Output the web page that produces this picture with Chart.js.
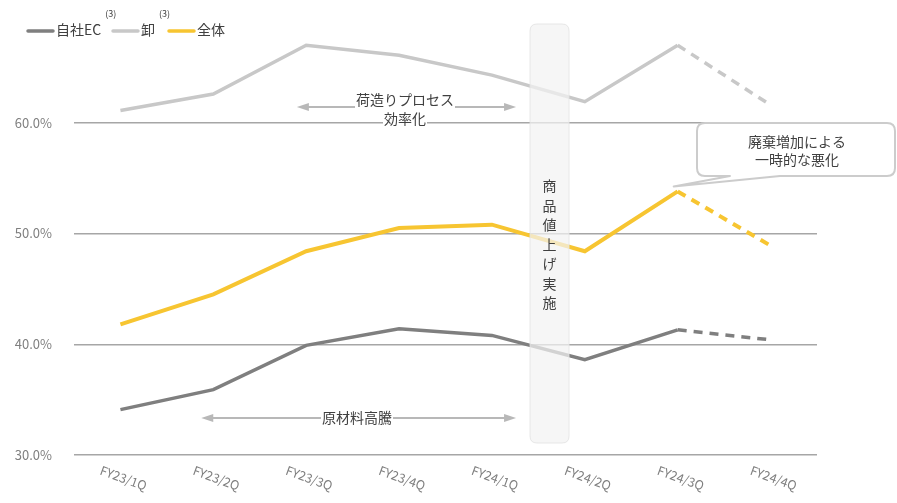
<!DOCTYPE html>
<html>
<head>
<meta charset="utf-8">
<script src="https://cdn.jsdelivr.net/npm/chart.js@4"></script>
<style>
  html, body { margin: 0; padding: 0; background: #fff; }
  #wrap { width: 897px; height: 503px; }
</style>
</head>
<body>
<div id="wrap"><canvas id="chart"></canvas></div>
<script>
// 四半期ラベル
const quarters = ['FY23/1Q', 'FY23/2Q', 'FY23/3Q', 'FY23/4Q', 'FY24/1Q', 'FY24/2Q', 'FY24/3Q', 'FY24/4Q'];
// 粗利率 (%)
const ecValues = [34.1, 35.9, 39.9, 41.4, 40.8, 38.6, 41.3, 40.4];
const wholesaleValues = [61.1, 62.6, 67.0, 66.1, 64.3, 61.9, 67.0, 61.6];
const totalValues = [41.8, 44.5, 48.4, 50.5, 50.8, 48.4, 53.8, 48.9];
const yTicks = [30, 40, 50, 60];

const FONT = '"Noto Sans CJK JP", "Noto Sans", sans-serif';

// 最後の区間 (見込み) は破線
const dashLast = ctx => ctx.p0DataIndex === quarters.length - 2 ? [9, 7] : undefined;

function roundRect(c, x, y, w, h, r) {
    c.beginPath();
    c.moveTo(x + r, y);
    c.lineTo(x + w - r, y);
    c.quadraticCurveTo(x + w, y, x + w, y + r);
    c.lineTo(x + w, y + h - r);
    c.quadraticCurveTo(x + w, y + h, x + w - r, y + h);
    c.lineTo(x + r, y + h);
    c.quadraticCurveTo(x, y + h, x, y + h - r);
    c.lineTo(x, y + r);
    c.quadraticCurveTo(x, y, x + r, y);
    c.closePath();
}

function arrow(c, x1, x2, y) {
    c.save();
    c.strokeStyle = '#b8b8b8';
    c.fillStyle = '#b8b8b8';
    c.lineWidth = 2;
    c.beginPath();
    c.moveTo(x1 + 8, y);
    c.lineTo(x2 - 8, y);
    c.stroke();
    [[x1, 1], [x2, -1]].forEach(([x, d]) => {
        c.beginPath();
        c.moveTo(x, y);
        c.lineTo(x + d * 12, y - 4);
        c.lineTo(x + d * 12, y + 4);
        c.closePath();
        c.fill();
    });
    c.restore();
}

function labelBox(c, text, x, y) {
    c.save();
    c.font = '14px ' + FONT;
    const w = c.measureText(text).width;
    c.fillStyle = '#fff';
    c.fillRect(x - w / 2 - 1, y - 9, w + 2, 18);
    c.fillStyle = '#404040';
    c.textAlign = 'center';
    c.textBaseline = 'middle';
    c.fillText(text, x, y);
    c.restore();
}

const overlayPlugin = {
    id: 'overlay',
    afterDatasetsDraw(chart) {
        const c = chart.ctx;
        const xs = chart.scales.x;
        const step = xs.getPixelForTick(1) - xs.getPixelForTick(0);
        // 値上げ帯
        const bx = xs.getPixelForTick(4) + step * 0.41;
        c.save();
        roundRect(c, bx, 24, 39, 419, 7);
        c.fillStyle = 'rgba(242,242,242,0.72)';
        c.fill();
        c.strokeStyle = 'rgba(225,225,225,0.8)';
        c.lineWidth = 1;
        c.stroke();
        c.fillStyle = '#404040';
        c.font = '14px ' + FONT;
        c.textAlign = 'center';
        c.textBaseline = 'middle';
        '商品値上げ実施'.split('').forEach((ch, i) => c.fillText(ch, bx + 19.5, 186 + i * 19.5));
        c.restore();
    },
    afterDraw(chart) {
        const c = chart.ctx;
        const xs = chart.scales.x, ys = chart.scales.y;
        const step = xs.getPixelForTick(1) - xs.getPixelForTick(0);

        // 矢印 + 注釈
        const endX = xs.getPixelForTick(4) + step * 0.26;
        arrow(c, xs.getPixelForTick(2) - step * 0.1, endX, 107);
        labelBox(c, '荷造りプロセス', 405, 100);
        labelBox(c, '効率化', 405, 119);
        arrow(c, xs.getPixelForTick(1) - step * 0.13, endX, 418);
        labelBox(c, '原材料高騰', 357, 418);

        // 吹き出し (しっぽ付き)
        const px = xs.getPixelForTick(6) - 4, py = ys.getPixelForValue(totalValues[6]) - 5;
        const bx = 697, by = 123, bw = 198, bh = 53, r = 8;
        c.save();
        c.beginPath();
        c.moveTo(bx + r, by);
        c.lineTo(bx + bw - r, by);
        c.quadraticCurveTo(bx + bw, by, bx + bw, by + r);
        c.lineTo(bx + bw, by + bh - r);
        c.quadraticCurveTo(bx + bw, by + bh, bx + bw - r, by + bh);
        c.lineTo(780, by + bh);
        c.lineTo(px, py);
        c.lineTo(730, by + bh);
        c.lineTo(bx + r, by + bh);
        c.quadraticCurveTo(bx, by + bh, bx, by + bh - r);
        c.lineTo(bx, by + r);
        c.quadraticCurveTo(bx, by, bx + r, by);
        c.closePath();
        c.fillStyle = '#fff';
        c.fill();
        c.strokeStyle = '#cccccc';
        c.lineWidth = 2;
        c.lineJoin = 'round';
        c.stroke();
        c.fillStyle = '#404040';
        c.font = '14px ' + FONT;
        c.textAlign = 'center';
        c.textBaseline = 'middle';
        c.fillText('廃棄増加による', 797, 142);
        c.fillText('一時的な悪化', 797, 160);
        c.restore();

        // X軸ラベル (右下がり)
        c.save();
        c.fillStyle = '#7f7f7f';
        c.font = '12.5px ' + FONT;
        c.textAlign = 'center';
        c.textBaseline = 'middle';
        quarters.forEach((q, i) => {
            c.save();
            c.translate(xs.getPixelForTick(i) + 3, 478);
            c.rotate(20 * Math.PI / 180);
            c.fillText(q, 0, 0);
            c.restore();
        });
        c.restore();

        // 凡例
        c.save();
        c.lineCap = 'round';
        c.textBaseline = 'middle';
        const items = [
            { x: 28, color: '#7f7f7f', label: '自社EC', sup: '(3)' },
            { x: 113, color: '#c8c8c8', label: '卸', sup: '(3)' },
            { x: 169, color: '#f7c531', label: '全体', sup: '' }
        ];
        items.forEach(it => {
            c.strokeStyle = it.color;
            c.lineWidth = 3.5;
            c.beginPath();
            c.moveTo(it.x, 31);
            c.lineTo(it.x + 25, 31);
            c.stroke();
            c.fillStyle = '#404040';
            c.font = '14px ' + FONT;
            c.fillText(it.label, it.x + 28, 30);
            const w = c.measureText(it.label).width;
            if (it.sup) {
                c.font = '9px ' + FONT;
                c.fillText(it.sup, it.x + 30 + w + 2, 14);
            }
        });
        c.restore();
    }
};

new Chart(document.getElementById('chart'), {
    type: 'line',
    data: {
        labels: quarters,
        datasets: [
            {
                label: '自社EC',
                data: ecValues,
                borderColor: '#7f7f7f',
                borderWidth: 3.5,
                segment: { borderDash: dashLast }
            },
            {
                label: '卸',
                data: wholesaleValues,
                borderColor: '#c8c8c8',
                borderWidth: 3.5,
                segment: { borderDash: dashLast }
            },
            {
                label: '全体',
                data: totalValues,
                borderColor: '#f7c531',
                borderWidth: 4,
                segment: { borderDash: dashLast }
            }
        ]
    },
    options: {
        responsive: true,
        maintainAspectRatio: false,
        animation: false,
        layout: { padding: { top: 12, right: 80, left: 0, bottom: 0 } },
        elements: {
            point: { radius: 0, hoverRadius: 0 },
            line: { tension: 0, borderCapStyle: 'butt', borderJoinStyle: 'miter' }
        },
        plugins: {
            legend: { display: false },
            tooltip: { enabled: false }
        },
        scales: {
            x: {
                offset: true,
                grid: { display: false },
                border: { display: false },
                ticks: { display: false },
                afterFit: s => { s.height = 48; }
            },
            y: {
                min: 30,
                max: 70,
                afterBuildTicks: s => { s.ticks = yTicks.map(v => ({ value: v })); },
                border: { display: false },
                grid: {
                    drawTicks: false,
                    lineWidth: 1.5,
                    color: '#a6a6a6'
                },
                ticks: {
                    padding: 22,
                    color: '#7f7f7f',
                    font: { family: FONT, size: 13 },
                    callback: v => v.toFixed(1) + '%'
                },
                afterFit: s => { s.width = 74; s.paddingTop = 0; s.paddingBottom = 0; }
            }
        }
    },
    plugins: [overlayPlugin]
});
</script>
</body>
</html>
